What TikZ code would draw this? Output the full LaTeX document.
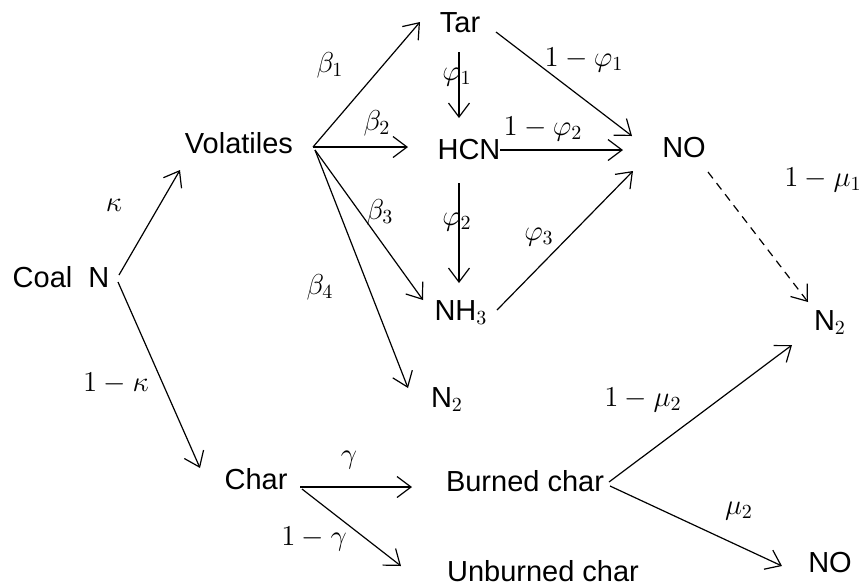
\documentclass[tikz,border=0pt]{standalone}
\usepackage[no-math]{fontspec}
\setmainfont{Liberation Sans}
\usetikzlibrary{arrows.meta}
\begin{document}
\begin{tikzpicture}[x=0.5pt,y=-0.5pt,
  species/.style={inner sep=0pt,text height=0.72em,text depth=0pt,font=\fontsize{14.5}{17}\selectfont},
  coef/.style={inner sep=0pt,font=\fontsize{14.5}{17}\selectfont},
  arr/.style={line width=0.6pt,-{Straight Barb[length=7pt,width=10.5pt,line width=0.6pt]}},
  darr/.style={arr,dash pattern=on 4pt off 3pt}]
\useasboundingbox (0,0) rectangle (863,586);

% species
\node[species] (coal) at (61,280) {Coal\hspace{8pt}N};
\node[species] (vol) at (239,146) {Volatiles};
\node[species] (tar) at (460,25) {Tar};
\node[species] (hcn) at (469,152) {HCN};
\node[species] (nh3) at (461,313) {NH$_3$};
\node[species] (no1) at (684,150) {NO};
\node[species] (n2a) at (447,400) {N$_2$};
\node[species] (n2b) at (830,323) {N$_2$};
\node[species] (char) at (256,482) {Char};
\node[species] (burned) at (525,484) {Burned char};
\node[species] (unburned) at (543,574) {Unburned char};
\node[species] (no2) at (830,565) {NO};

% conversion paths
\draw[arr] ([shift={(58,-5)}]coal.center) -- ([shift={(-59,24)}]vol.center);
\draw[arr] ([shift={(57,2)}]coal.center) -- ([shift={(-56,-14)}]char.center);
\draw[arr] ([shift={(74,1)}]vol.center) -- ([shift={(-40,-3)}]tar.center);
\draw[arr] ([shift={(74,1)}]vol.center) -- ([shift={(-61,-5)}]hcn.center);
\draw[arr] ([shift={(76,4)}]vol.center) -- ([shift={(-38,-13)}]nh3.center);
\draw[arr] ([shift={(76,4)}]vol.center) -- ([shift={(-39,-12)}]n2a.center);
\draw[arr] ([shift={(-1,27)}]tar.center) -- ([shift={(-10,-34)}]hcn.center);
\draw[arr] ([shift={(36,7)}]tar.center) -- ([shift={(-52,-14)}]no1.center);
\draw[arr] ([shift={(31,-2)}]hcn.center) -- ([shift={(-61,0)}]no1.center);
\draw[arr] ([shift={(-10,31)}]hcn.center) -- ([shift={(-2,-30)}]nh3.center);
\draw[arr] ([shift={(36,-3)}]nh3.center) -- ([shift={(-51,21)}]no1.center);
\draw[darr] ([shift={(24,22)}]no1.center) -- ([shift={(-22,-21)}]n2b.center);
\draw[arr] ([shift={(44,5)}]char.center) -- ([shift={(-113,3)}]burned.center);
\draw[arr] ([shift={(46,7)}]char.center) -- ([shift={(-142,-8)}]unburned.center);
\draw[arr] ([shift={(84,-2)}]burned.center) -- ([shift={(-38,22)}]n2b.center);
\draw[arr] ([shift={(85,2)}]burned.center) -- ([shift={(-48,1)}]no2.center);

% fractions
\node[coef] (lk) at (114,205) {$\kappa$};
\node[coef] (lnk) at (116,383) {$1-\kappa$};
\node[coef] (lb1) at (330,65) {$\beta_1$};
\node[coef] (lb2) at (377,123) {$\beta_2$};
\node[coef] (lb3) at (380,212) {$\beta_3$};
\node[coef] (lb4) at (320,287) {$\beta_4$};
\node[coef] (lp1) at (457,77) {$\varphi_1$};
\node[coef] (lnp1) at (584,60) {$1-\varphi_1$};
\node[coef] (lnp2) at (543,129) {$1-\varphi_2$};
\node[coef] (lp2) at (457,222) {$\varphi_2$};
\node[coef] (lp3) at (539,237) {$\varphi_3$};
\node[coef] (lnm1) at (823,180) {$1-\mu_1$};
\node[coef] (lnm2) at (643,400) {$1-\mu_2$};
\node[coef] (lm2) at (739,511) {$\mu_2$};
\node[coef] (lg) at (349,460) {$\gamma$};
\node[coef] (lng) at (314,539) {$1-\gamma$};
\end{tikzpicture}
\end{document}
